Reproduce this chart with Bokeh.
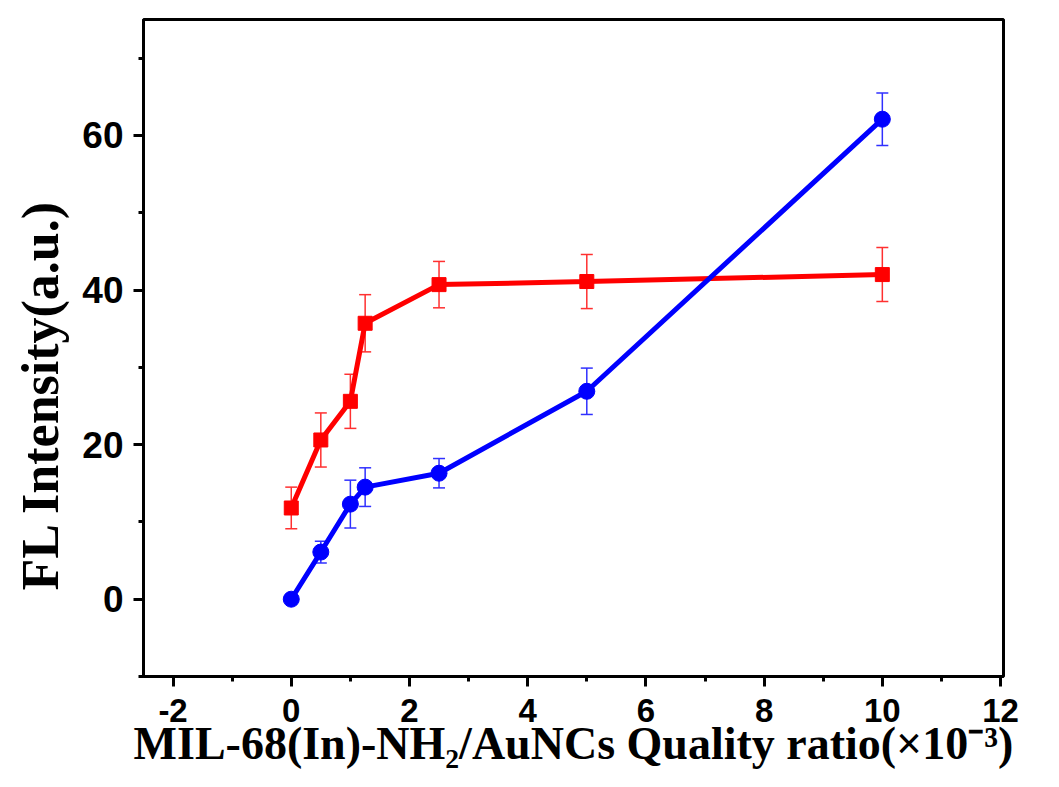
from bokeh.plotting import figure
from bokeh.models import (ColumnDataSource, Whisker, TeeHead, SingleIntervalTicker,
                          Range1d, CustomJSTickFormatter, Title)
from bokeh.embed import file_html
from bokeh.resources import INLINE

# data
ratio = [0, 0.5, 1, 1.25, 2.5, 5, 10]
red_y = [11.8, 20.6, 25.6, 35.7, 40.7, 41.1, 42.0]
red_err = [2.7, 3.5, 3.5, 3.7, 3.0, 3.5, 3.5]
blue_y = [0.0, 6.1, 12.3, 14.5, 16.3, 26.9, 62.1]
blue_err = [0.0, 1.4, 3.1, 2.5, 1.9, 3.0, 3.4]
x_ticks_interval = 2
y_ticks_interval = 20
x_label = "MIL-68(In)-NH\u2082/AuNCs Quality ratio(\u00d710\u207b\u00b3)"
y_label = "FL Intensity(a.u.)"

p = figure(width=1043, height=771, output_backend="svg", toolbar_location=None,
           x_range=Range1d(-2.5, 12.05), y_range=Range1d(-10, 75),
           min_border_left=143, min_border_right=40, min_border_top=19, min_border_bottom=95)
p.grid.visible = False
p.outline_line_color = "black"
p.outline_line_width = 3
p.background_fill_color = "white"
p.border_fill_color = "white"

p.xaxis.ticker = SingleIntervalTicker(interval=x_ticks_interval, num_minor_ticks=2)
p.yaxis.ticker = SingleIntervalTicker(interval=y_ticks_interval, num_minor_ticks=2)

fmt = CustomJSTickFormatter(code="return tick.toFixed(0);")
for ax in (p.xaxis[0], p.yaxis[0]):
    ax.formatter = fmt
    ax.axis_line_width = 3
    ax.major_tick_line_width = 3
    ax.minor_tick_line_width = 3
    ax.major_tick_out = 10
    ax.major_tick_in = 0
    ax.minor_tick_out = 5
    ax.minor_tick_in = 0
    ax.major_label_text_font = "Liberation Sans"
    ax.major_label_text_font_style = "bold"
    ax.major_label_text_color = "black"
p.yaxis.major_label_text_font_size = "37px"
p.xaxis.major_label_text_font_size = "33px"
p.xaxis.major_label_standoff = 12
p.yaxis.major_label_standoff = 10

p.xaxis.axis_label = x_label
p.xaxis.axis_label_text_font = "Liberation Serif"
p.xaxis.axis_label_text_font_style = "bold"
p.xaxis.axis_label_text_font_size = "46px"
p.xaxis.axis_label_text_color = "black"
p.xaxis.axis_label_standoff = -7

ytitle = Title(text=y_label, align="left", offset=86, standoff=18, vertical_align="top",
               text_font="Liberation Serif", text_font_style="bold",
               text_font_size="52px", text_color="black")
p.add_layout(ytitle, "left")

src_r = ColumnDataSource(dict(x=ratio, y=red_y,
                              lo=[a - b for a, b in zip(red_y, red_err)],
                              hi=[a + b for a, b in zip(red_y, red_err)]))
src_b = ColumnDataSource(dict(x=ratio, y=blue_y,
                              lo=[a - b for a, b in zip(blue_y, blue_err)],
                              hi=[a + b for a, b in zip(blue_y, blue_err)]))

for src, col in ((src_r, "#ff3030"), (src_b, "#3030ff")):
    w = Whisker(base="x", upper="hi", lower="lo", source=src, line_color=col,
                line_width=1.5, level="underlay",
                upper_head=TeeHead(size=12, line_color=col, line_width=1.5),
                lower_head=TeeHead(size=12, line_color=col, line_width=1.5))
    p.add_layout(w)

p.line("x", "y", source=src_r, line_color="#ff0000", line_width=5)
p.scatter("x", "y", source=src_r, marker="square", size=14, fill_color="#ff0000", line_color="#ff0000")
p.line("x", "y", source=src_b, line_color="#0000ff", line_width=5)
p.scatter("x", "y", source=src_b, marker="circle", size=16, fill_color="#0000ff", line_color="#0000ff")

open("out.html", "w").write(file_html(p, INLINE))
